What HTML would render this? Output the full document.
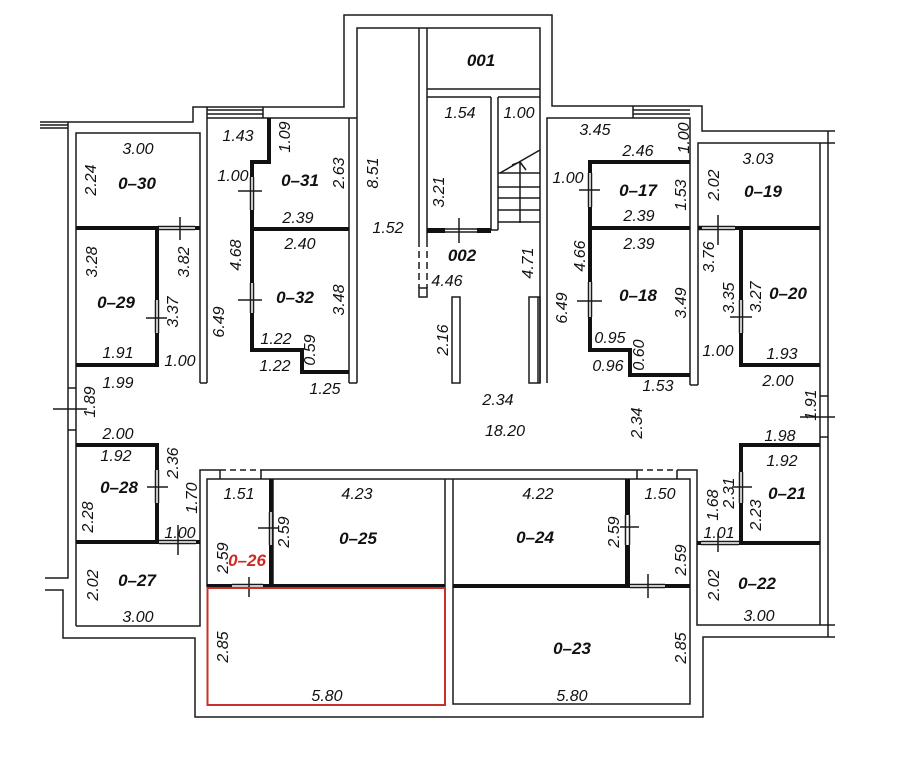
<!DOCTYPE html>
<html><head><meta charset="utf-8"><style>
html,body{margin:0;padding:0;background:#fff;}
svg{display:block;}
text{font-family:"Liberation Sans",sans-serif;font-style:italic;fill:#111;}
.d{font-size:16px;}
.r{font-size:17px;font-weight:bold;}
</style></head><body>
<svg width="923" height="770" viewBox="0 0 923 770" xmlns="http://www.w3.org/2000/svg">
<rect width="923" height="770" fill="#fff"/>
<g fill="none" stroke="#1a1a1a" stroke-width="1.5">
<!-- outer/top walls -->
<path d="M40,122 H193 V107 H344 V15 H552 V106 H702 V131 H835"/>
<path d="M40,125 H68 M40,128 H68"/>
<path d="M357,383 V28 H540 V383"/>
<path d="M547,383 V118 H690 V385"/>
<path d="M698,385 V143 H835"/>
<path d="M76,626 V133 H200 V383"/>
<path d="M207,383 V107"/>
<path d="M207,118 H357"/>
<path d="M349,118 V383"/>
<path d="M207,110 H263 M207,114 H263 M263,107 V118"/>
<path d="M633,110 H690 M633,114 H690 M633,106 V118"/>
<path d="M68,122 V578 H45"/>
<path d="M45,590 H63 V638 H195 V717 H703 V637 H835"/>
<path d="M76,626 H200 V470 H220 M261,470 H637 M677,470 H697 V625 H835"/>
<path d="M220,470 H261 M637,470 H677" stroke-dasharray="6,4"/>
<path d="M220,470 V479 M261,470 V479 M637,470 V479 M677,470 V479"/>
<path d="M820,143 V625 M828,131 V637"/>
<path d="M820,396 H828 M820,437 H828 M800,417 H835"/>
<path d="M68,388 H76 M68,430 H76 M53,409 H87"/>
<!-- pier caps -->
<path d="M200,383 H207 M349,383 H357"/>
<rect x="452" y="297" width="8" height="86"/>
<rect x="529" y="297" width="11" height="86"/>
<path d="M538,297 V383"/>
<path d="M690,385 H698"/>
<!-- core -->
<path d="M419,28 V240 M427,28 V240"/>
<path d="M419,240 V288 M427,240 V288" stroke-dasharray="7,4"/>
<rect x="419" y="288" width="8" height="9"/>
<path d="M427,89 H540 M427,97 H491 M498,97 H540"/>
<path d="M491,97 V230 M498,97 V230 M491,230 H498"/>
<path d="M427,229 H491 M427,232 H491"/>
<path d="M459,218 V243"/>
<!-- stairs -->
<path d="M498,173 H540 M498,187 H540 M498,198 H540 M498,210 H540 M498,222 H540"/>
<path d="M500,173 L540,150 M520,162 V223 M520,162 L512,165 M520,162 L526,170"/>
<!-- bottom block inner -->
<path d="M207,587 V479 H690 V704 H453 V479 M445,479 V587"/>
<path d="M273,479 V585"/>
<!-- thin door lines -->
<path d="M158,226.5 H195 M158,229.5 H195"/>
<path d="M155.5,300 V333 M158.5,300 V333"/>
<path d="M155.5,470 V503 M158.5,470 V503"/>
<path d="M159,540.5 H196 M159,543.5 H196"/>
<path d="M250.5,177 V210 M253.5,177 V210 M250.5,283 V313 M253.5,283 V313"/>
<path d="M588.5,173 V207 M591.5,173 V207 M588.5,282 V317 M591.5,282 V317"/>
<path d="M698,226.5 H735 M698,229.5 H735"/>
<path d="M739.5,300 V333 M742.5,300 V333"/>
<path d="M739.5,472 V503 M742.5,472 V503"/>
<path d="M701,541.5 H739 M701,544.5 H739"/>
<path d="M269.5,512 V545 M272.5,512 V545"/>
<path d="M232,584.5 H263 M232,587.5 H263"/>
<path d="M625.5,515 V545 M629.5,515 V545"/>
<path d="M630,584.5 H665 M630,587.5 H665"/>
<!-- door ticks -->
<path d="M180,217 V240 M146,318 H167 M147,487 H168 M178,525 V555 M238,191 H262 M238,300 H262 M579,190 H600 M577,301 H602 M718,215 V245 M730,317 H752 M732,487 H752 M718,533 V552 M258,528 H278 M249,577 V597 M620,527 H639 M648,574 V598"/>
</g>
<!-- thick partitions -->
<g fill="#111">
<rect x="76" y="226" width="82" height="4"/><rect x="195" y="226" width="5" height="4"/>
<rect x="155" y="226" width="4" height="74"/><rect x="155" y="333" width="4" height="34"/>
<rect x="76" y="363" width="83" height="4"/>
<rect x="76" y="443" width="83" height="4"/>
<rect x="155" y="443" width="4" height="27"/><rect x="155" y="503" width="4" height="40"/>
<rect x="76" y="540" width="83" height="4"/><rect x="196" y="540" width="4" height="4"/>
<rect x="267" y="118" width="4" height="44"/><rect x="250" y="160" width="21" height="4"/>
<rect x="250" y="160" width="4" height="17"/><rect x="250" y="210" width="4" height="73"/>
<rect x="250" y="313" width="4" height="39"/>
<rect x="250" y="227" width="99" height="4"/>
<rect x="250" y="348" width="54" height="4"/><rect x="300" y="348" width="4" height="25"/>
<rect x="300" y="370" width="49" height="4"/>
<rect x="588" y="160" width="102" height="4"/><rect x="588" y="160" width="4" height="13"/>
<rect x="588" y="207" width="4" height="75"/><rect x="588" y="317" width="4" height="35"/>
<rect x="588" y="226" width="102" height="4"/>
<rect x="588" y="348" width="44" height="4"/><rect x="628" y="348" width="4" height="29"/>
<rect x="628" y="373" width="62" height="4"/>
<rect x="735" y="226" width="85" height="4"/><rect x="698" y="226" width="4" height="4"/>
<rect x="739" y="229" width="4" height="71"/><rect x="739" y="333" width="4" height="34"/>
<rect x="739" y="363" width="81" height="4"/>
<rect x="739" y="443" width="81" height="4"/>
<rect x="739" y="443" width="4" height="29"/><rect x="739" y="503" width="4" height="42"/>
<rect x="739" y="541" width="81" height="4"/><rect x="697" y="541" width="4" height="4"/>
<rect x="269" y="479" width="4" height="33"/><rect x="269" y="545" width="4" height="40"/>
<rect x="207" y="584" width="25" height="4"/><rect x="263" y="584" width="182" height="4"/>
<rect x="625" y="479" width="5" height="36"/><rect x="625" y="545" width="5" height="40"/>
<rect x="453" y="584" width="177" height="4"/><rect x="665" y="584" width="25" height="4"/>
<rect x="427" y="228" width="18" height="5"/><rect x="477" y="228" width="14" height="5"/>
</g>
<rect x="207.5" y="588" width="237.5" height="117" fill="none" stroke="#c8302a" stroke-width="2"/>
<!-- dimension labels -->
<g class="d" text-anchor="middle">
<text x="138" y="154">3.00</text>
<text transform="translate(90,180) rotate(-90)" dy="6">2.24</text>
<text transform="translate(91,262) rotate(-90)" dy="6">3.28</text>
<text transform="translate(183,262) rotate(-90)" dy="6">3.82</text>
<text transform="translate(172,312) rotate(-90)" dy="6">3.37</text>
<text x="118" y="358">1.91</text>
<text x="180" y="366">1.00</text>
<text x="118" y="388">1.99</text>
<text transform="translate(89,402) rotate(-90)" dy="6">1.89</text>
<text x="118" y="439">2.00</text>
<text x="116" y="461">1.92</text>
<text transform="translate(172,463) rotate(-90)" dy="6">2.36</text>
<text transform="translate(191,498) rotate(-90)" dy="6">1.70</text>
<text transform="translate(87,517) rotate(-90)" dy="6">2.28</text>
<text x="180" y="538">1.00</text>
<text transform="translate(92,585) rotate(-90)" dy="6">2.02</text>
<text x="138" y="622">3.00</text>
<text x="238" y="141">1.43</text>
<text transform="translate(284,137) rotate(-90)" dy="6">1.09</text>
<text x="233" y="181">1.00</text>
<text transform="translate(338,173) rotate(-90)" dy="6">2.63</text>
<text x="298" y="223">2.39</text>
<text x="300" y="249">2.40</text>
<text transform="translate(235,255) rotate(-90)" dy="6">4.68</text>
<text transform="translate(338,300) rotate(-90)" dy="6">3.48</text>
<text transform="translate(218,322) rotate(-90)" dy="6">6.49</text>
<text x="276" y="344">1.22</text>
<text transform="translate(309,350) rotate(-90)" dy="6">0.59</text>
<text x="275" y="371">1.22</text>
<text x="325" y="394">1.25</text>
<text transform="translate(372,173) rotate(-90)" dy="6">8.51</text>
<text x="388" y="233">1.52</text>
<text transform="translate(438,192) rotate(-90)" dy="6">3.21</text>
<text x="460" y="118">1.54</text>
<text x="519" y="118">1.00</text>
<text x="447" y="286">4.46</text>
<text transform="translate(527,263) rotate(-90)" dy="6">4.71</text>
<text transform="translate(442,340) rotate(-90)" dy="6">2.16</text>
<text x="498" y="405">2.34</text>
<text x="505" y="436">18.20</text>
<text transform="translate(636,423) rotate(-90)" dy="6">2.34</text>
<text x="595" y="135">3.45</text>
<text transform="translate(683,138) rotate(-90)" dy="6">1.00</text>
<text x="638" y="156">2.46</text>
<text x="568" y="183">1.00</text>
<text transform="translate(680,195) rotate(-90)" dy="6">1.53</text>
<text x="639" y="221">2.39</text>
<text x="639" y="249">2.39</text>
<text transform="translate(579,256) rotate(-90)" dy="6">4.66</text>
<text transform="translate(561,308) rotate(-90)" dy="6">6.49</text>
<text transform="translate(680,303) rotate(-90)" dy="6">3.49</text>
<text x="610" y="343">0.95</text>
<text transform="translate(638,355) rotate(-90)" dy="6">0.60</text>
<text x="608" y="371">0.96</text>
<text x="658" y="391">1.53</text>
<text x="758" y="164">3.03</text>
<text transform="translate(713,185) rotate(-90)" dy="6">2.02</text>
<text transform="translate(708,257) rotate(-90)" dy="6">3.76</text>
<text transform="translate(728,298) rotate(-90)" dy="6">3.35</text>
<text transform="translate(755,297) rotate(-90)" dy="6">3.27</text>
<text x="718" y="356">1.00</text>
<text x="782" y="359">1.93</text>
<text x="778" y="386">2.00</text>
<text transform="translate(810,405) rotate(-90)" dy="6">1.91</text>
<text x="780" y="441">1.98</text>
<text x="782" y="466">1.92</text>
<text transform="translate(728,493) rotate(-90)" dy="6">2.31</text>
<text transform="translate(712,505) rotate(-90)" dy="6">1.68</text>
<text transform="translate(755,515) rotate(-90)" dy="6">2.23</text>
<text x="719" y="538">1.01</text>
<text transform="translate(713,585) rotate(-90)" dy="6">2.02</text>
<text x="759" y="621">3.00</text>
<text x="239" y="499">1.51</text>
<text x="357" y="499">4.23</text>
<text transform="translate(283,532) rotate(-90)" dy="6">2.59</text>
<text transform="translate(222,558) rotate(-90)" dy="6">2.59</text>
<text transform="translate(222,647) rotate(-90)" dy="6">2.85</text>
<text x="327" y="701">5.80</text>
<text x="538" y="499">4.22</text>
<text x="660" y="499">1.50</text>
<text transform="translate(613,532) rotate(-90)" dy="6">2.59</text>
<text transform="translate(680,560) rotate(-90)" dy="6">2.59</text>
<text transform="translate(680,648) rotate(-90)" dy="6">2.85</text>
<text x="572" y="701">5.80</text>
</g>
<!-- room names -->
<g class="r" text-anchor="middle">
<text x="137" y="189">0–30</text>
<text x="116" y="308">0–29</text>
<text x="119" y="493">0–28</text>
<text x="137" y="586">0–27</text>
<text x="300" y="186">0–31</text>
<text x="295" y="303">0–32</text>
<text x="481" y="66">001</text>
<text x="462" y="261">002</text>
<text x="638" y="196">0–17</text>
<text x="638" y="301">0–18</text>
<text x="763" y="197">0–19</text>
<text x="788" y="299">0–20</text>
<text x="787" y="499">0–21</text>
<text x="757" y="589">0–22</text>
<text x="358" y="544">0–25</text>
<text x="247" y="566" style="fill:#cc2a22">0–26</text>
<text x="535" y="543">0–24</text>
<text x="572" y="654">0–23</text>
</g>
</svg>
</body></html>
